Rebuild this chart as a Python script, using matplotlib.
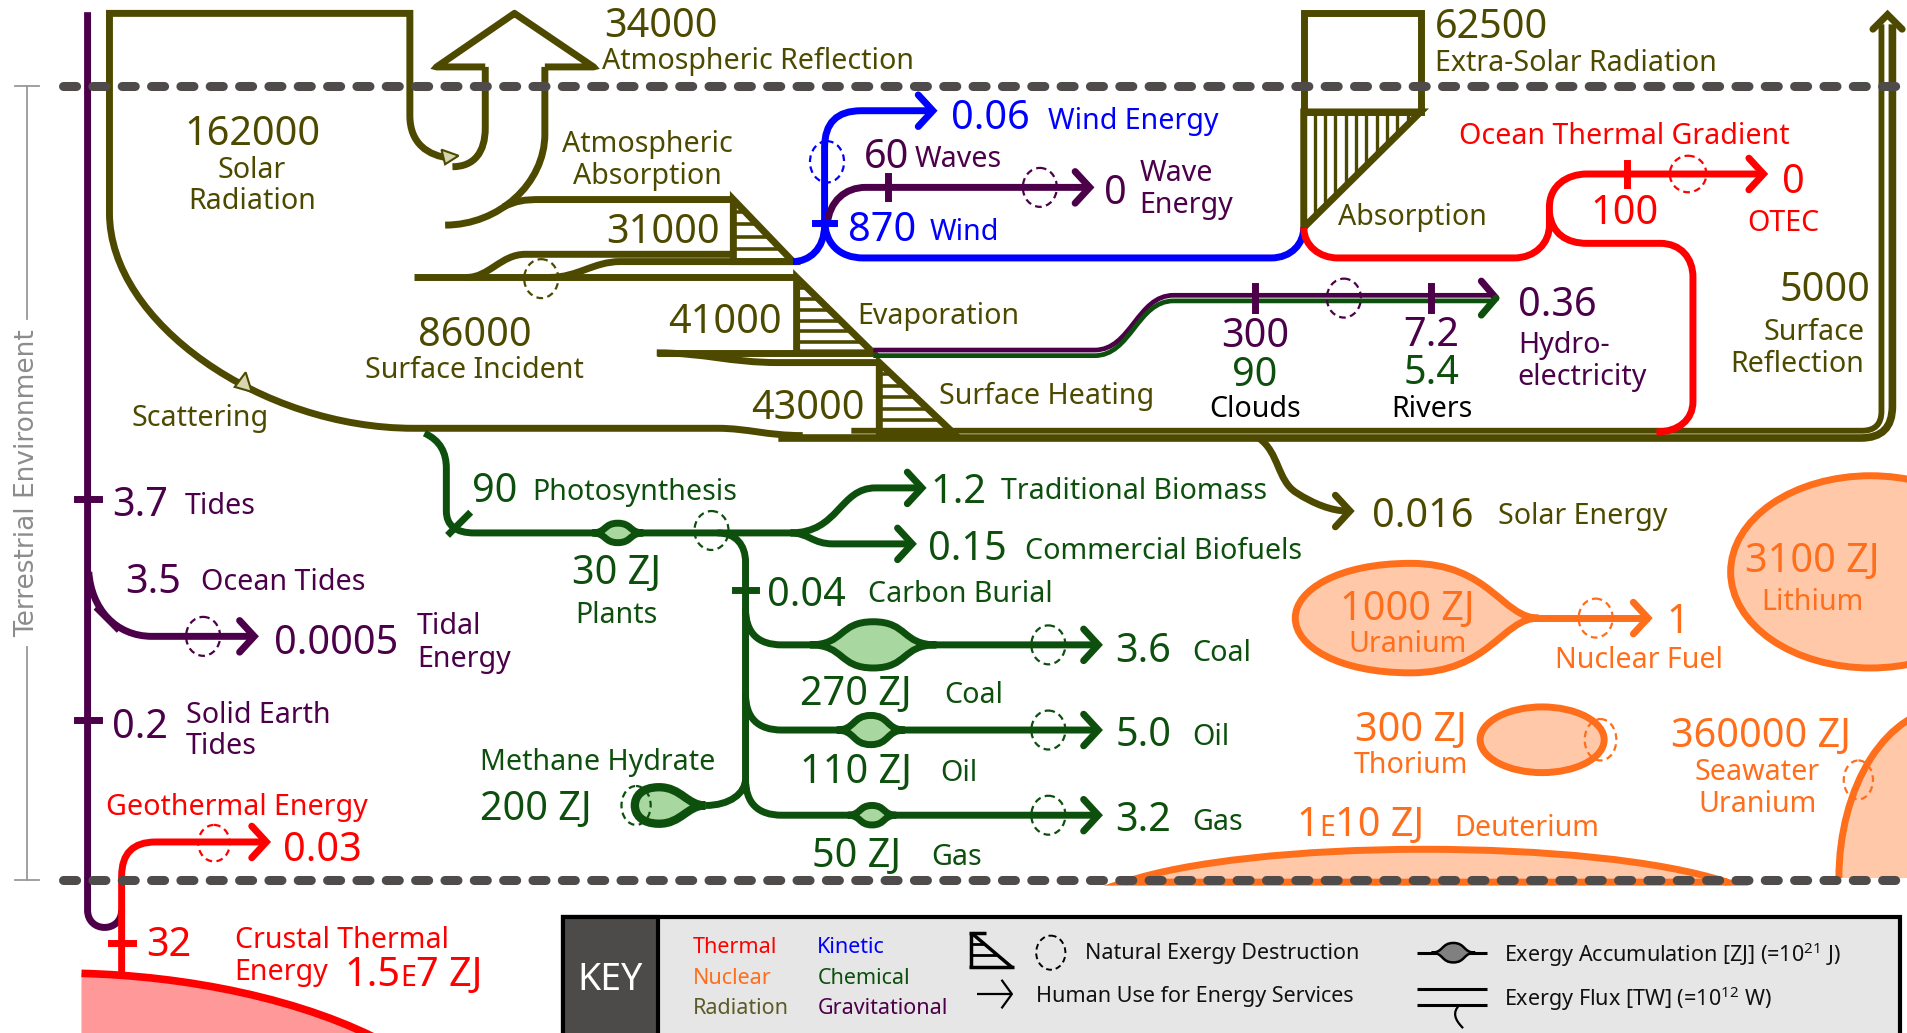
import numpy as np
import matplotlib
matplotlib.use("Agg")
import matplotlib.pyplot as plt
from matplotlib.path import Path
from matplotlib.patches import PathPatch, Ellipse, Rectangle, Polygon

plt.rcParams["font.family"] = ["Noto Sans", "DejaVu Sans"]
plt.rcParams["mathtext.default"] = "regular"

# colours of the exergy forms
OLIVE = "#4d4a00"
PURPLE = "#4b0049"
GREEN = "#0d4f0d"
LGREEN = "#a8d8a0"
BLUE = "#0000ff"
RED = "#ff0000"
ORANGE = "#ff6e1a"
PEACH = "#ffc8a8"
PINK = "#ff9999"
DASH = "#4f4b4b"

# ---- values shown on the chart (fluxes in TW, stocks in ZJ) ----
radiation_values = ["162000", "34000", "31000", "86000", "41000", "43000", "62500", "5000", "0.016"]
radiation_labels = ["Solar\nRadiation", "Atmospheric Reflection", "Atmospheric\nAbsorption",
                    "Surface Incident", "Evaporation", "Surface Heating",
                    "Extra-Solar Radiation", "Surface\nReflection", "Solar Energy"]
grav_values = ["3.7", "3.5", "0.0005", "0.2", "60", "0", "300", "7.2", "0.36"]
grav_labels = ["Tides", "Ocean Tides", "Tidal\nEnergy", "Solid Earth\nTides", "Waves",
               "Wave\nEnergy", "", "", "Hydro-\nelectricity"]
kinetic_values = ["870", "0.06"]
kinetic_labels = ["Wind", "Wind Energy"]
chem_flux = ["90", "1.2", "0.15", "0.04", "3.6", "5.0", "3.2", "90", "5.4"]
chem_flux_labels = ["Photosynthesis", "Traditional Biomass", "Commercial Biofuels",
                    "Carbon Burial", "Coal", "Oil", "Gas", "", ""]
chem_stock = ["30 ZJ", "270 ZJ", "110 ZJ", "50 ZJ", "200 ZJ"]
chem_stock_labels = ["Plants", "Coal", "Oil", "Gas", "Methane Hydrate"]
water_cycle = ["Clouds", "Rivers"]
thermal_values = ["100", "0", "0.03", "32", "1.5E7 ZJ"]
thermal_labels = ["Ocean Thermal Gradient", "OTEC", "Geothermal Energy", "", "Crustal Thermal\nEnergy"]
nuclear_stock = ["1000 ZJ", "3100 ZJ", "300 ZJ", "360000 ZJ", "1E10 ZJ"]
nuclear_labels = ["Uranium", "Lithium", "Thorium", "Seawater\nUranium", "Deuterium"]
nuclear_flux = ["1"]
nuclear_flux_labels = ["Nuclear Fuel"]
key_forms = ["Thermal", "Nuclear", "Radiation", "Kinetic", "Chemical", "Gravitational"]
key_form_colors = [RED, ORANGE, "#5c5a28", BLUE, GREEN, PURPLE]
key_symbols = ["Natural Exergy Destruction", "Human Use for Energy Services",
               "Exergy Accumulation [ZJ] (=10$^{21}$ J)", "Exergy Flux [TW] (=10$^{12}$ W)"]

NUM, LAB, KEYF = 28.5, 20.6, 15.5
LW = 5.0

W, H = 1568, 849
fig = plt.figure(figsize=(19.07, 10.33), dpi=100)
ax = fig.add_axes([0, 0, 1, 1])
ax.set_xlim(0, W)
ax.set_ylim(H, 0)
ax.axis("off")


def pth(*cmds):
    verts, codes = [], []
    for c in cmds:
        if c[0] == "M":
            verts.append(c[1:3]); codes.append(Path.MOVETO)
        elif c[0] == "L":
            verts.append(c[1:3]); codes.append(Path.LINETO)
        elif c[0] == "C":
            verts += [c[1:3], c[3:5], c[5:7]]; codes += [Path.CURVE4] * 3
        elif c[0] == "Q":
            verts += [c[1:3], c[3:5]]; codes += [Path.CURVE3] * 2
        elif c[0] == "Z":
            verts.append((0, 0)); codes.append(Path.CLOSEPOLY)
    return Path(verts, codes)


def rline(pts, r):
    cmds = [("M", pts[0][0], pts[0][1])]
    for i in range(1, len(pts) - 1):
        p0, p1, p2 = (np.asarray(p, float) for p in pts[i - 1:i + 2])
        l1, l2 = np.linalg.norm(p1 - p0), np.linalg.norm(p2 - p1)
        rr = min(r, l1 / 2, l2 / 2)
        a = p1 - (p1 - p0) / l1 * rr
        b = p1 + (p2 - p1) / l2 * rr
        cmds += [("L", a[0], a[1]), ("Q", p1[0], p1[1], b[0], b[1])]
    cmds.append(("L", pts[-1][0], pts[-1][1]))
    return cmds


def stroke(cmds, color, lw=LW, z=3, join="round", cap="butt"):
    ax.add_patch(PathPatch(pth(*cmds), fill=False, ec=color, lw=lw,
                           joinstyle=join, capstyle=cap, zorder=z))


def chevron(x, y, color, lw=LW, d="r", s=12, z=4):
    if d == "r":
        xs, ys = [x - s, x, x - s], [y - s - 1, y, y + s + 1]
    else:
        xs, ys = [x - s, x, x + s], [y + s, y, y + s]
    ax.plot(xs, ys, color=color, lw=lw, solid_capstyle="round",
            solid_joinstyle="miter", zorder=z)


def dcircle(x, y, color, rx=14, ry=16, lw=1.6):
    ax.add_patch(Ellipse((x, y), 2 * rx, 2 * ry, fill=False, ec=color, lw=lw,
                         ls=(0, (3, 2)), zorder=6))


def tick(x, y, color, orient="v", L=9, lw=LW):
    if orient == "v":
        ax.plot([x, x], [y - L, y + L], color=color, lw=lw, zorder=4)
    else:
        ax.plot([x - L, x + L], [y, y], color=color, lw=lw, zorder=4)


def lens(cx, cy, hw, hh, face=LGREEN, edge=GREEN, lw=LW, z=5):
    p = pth(("M", cx - hw, cy),
            ("C", cx - hw * 0.45, cy, cx - hw * 0.55, cy - hh, cx, cy - hh),
            ("C", cx + hw * 0.55, cy - hh, cx + hw * 0.45, cy, cx + hw, cy),
            ("C", cx + hw * 0.45, cy, cx + hw * 0.55, cy + hh, cx, cy + hh),
            ("C", cx - hw * 0.55, cy + hh, cx - hw * 0.45, cy, cx - hw, cy), ("Z",))
    ax.add_patch(PathPatch(p, fc=face, ec=edge, lw=lw, zorder=z))


def hatched_tri(x0, y0, x1, y1, n, color=OLIVE):
    # right triangle: vertical edge at x0 from y0..y1, hypotenuse to (x1, y1)
    ax.add_patch(Polygon([(x0, y0), (x1, y1), (x0, y1)], closed=True, fill=False,
                         ec=color, lw=LW, joinstyle="miter", zorder=3))
    for k in range(1, n + 1):
        yk = y0 + (y1 - y0) * k / (n + 1)
        xk = x0 + (x1 - x0) * (yk - y0) / (y1 - y0)
        ax.plot([x0, xk], [yk, yk], color=color, lw=2.6, zorder=3)


def T(x, y, s, color, size, ha="left", **kw):
    ax.text(x, y, s, color=color, fontsize=size, ha=ha, va="center_baseline",
            zorder=8, **kw)


def block(x, y, s, color, size, dy=27, ha="left"):
    for i, line in enumerate(s.split("\n")):
        T(x, y + i * dy, line, color, size, ha=ha)


def etext(x, y, s, color, size):
    # number written with a small-capital E
    head, tail = s.split("E")
    r = fig.canvas.get_renderer()
    inv = ax.transData.inverted()
    for part, sz in ((head, size), ("E", size * 0.72), (tail, size)):
        t = ax.text(x, y, part, color=color, fontsize=sz, ha="left", va="baseline", zorder=8)
        bb = t.get_window_extent(r)
        x = inv.transform((bb.x1, bb.y0))[0]


# ---------------- boundaries ----------------
for yy in (71, 723):
    ax.plot([52, W + 10], [yy, yy], color=DASH, lw=6.5, dashes=(1.45, 1.8),
            dash_capstyle="round", zorder=7)
ax.plot([22, 22], [71, 262], color="#999999", lw=1.3)
ax.plot([22, 22], [532, 723], color="#999999", lw=1.3)
ax.plot([12, 32], [71, 71], color="#999999", lw=1.3)
ax.plot([12, 32], [723, 723], color="#999999", lw=1.3)
ax.text(22, 397, "Terrestrial Environment", rotation=90, color="#8c8c8c", fontsize=19,
        family="DejaVu Sans", ha="center", va="center")

# ---------------- radiation (olive) ----------------
stroke([("M", 370, 130), ("C", 352, 128, 337, 118, 337, 95), ("L", 337, 11), ("L", 90, 11),
        ("L", 90, 175), ("C", 90, 265, 215, 352, 340, 352), ("L", 590, 352),
        ("C", 615, 352, 630, 358, 660, 358)], OLIVE, join="miter")
stroke(rline([(640, 360), (1556, 360), (1556, 20)], 26), OLIVE, lw=5.5)
stroke(rline([(700, 354), (1547, 354), (1547, 20)], 16), OLIVE, lw=4.2)
chevron(1552, 12, OLIVE, d="u", s=12)
ax.add_patch(Polygon([(363, 123), (377, 128), (366, 135)], closed=True, fc="#d8d6b0",
                     ec=OLIVE, lw=1.5, zorder=4))
ax.add_patch(Polygon([(193, 318), (202, 306), (207, 322)], closed=True, fc="#d8d6b0",
                     ec=OLIVE, lw=1.5, zorder=4))
stroke([("M", 399, 55), ("L", 399, 105), ("C", 399, 125, 390, 137, 372, 137)], OLIVE)
stroke(rline([(399, 55), (359, 55), (423, 11), (488, 55), (448, 55)], 0.1), OLIVE, join="miter")
stroke([("M", 448, 55), ("L", 448, 110), ("C", 448, 151, 410, 185, 366, 185)], OLIVE)
stroke([("M", 414, 170), ("C", 425, 165, 430, 164, 445, 164), ("L", 603, 164)], OLIVE)
hatched_tri(603, 164, 652, 215, 4)
stroke([("M", 384, 228), ("C", 402, 228, 412, 209, 432, 209), ("L", 603, 209)], OLIVE)
stroke([("M", 452, 228), ("C", 475, 228, 488, 215, 510, 215), ("L", 652, 215)], OLIVE)
stroke([("M", 340, 228), ("L", 655, 228)], OLIVE)
dcircle(445, 229, OLIVE, rx=14, ry=16)
hatched_tri(655, 228, 718, 290, 6)
stroke([("M", 540, 290), ("L", 718, 290)], OLIVE)
stroke([("M", 540, 290), ("C", 580, 290, 600, 298, 640, 298), ("L", 723, 298)], OLIVE)
hatched_tri(723, 298, 783, 355, 5)
# extra-solar box
ax.add_patch(Rectangle((1072, 11), 96, 81, fill=False, ec=OLIVE, lw=LW,
                       joinstyle="miter", zorder=3))
ax.add_patch(Polygon([(1072, 92), (1168, 92), (1072, 187)], closed=True, fill=False,
                     ec=OLIVE, lw=LW, joinstyle="miter", zorder=3))
for xk in np.arange(1081, 1166, 8.5):
    ax.plot([xk, xk], [92, 92 + (1168 - xk) / 96 * 95], color=OLIVE, lw=2.4, zorder=3)
# solar energy
stroke([("M", 1035, 360), ("C", 1052, 372, 1050, 395, 1066, 405),
        ("C", 1080, 414, 1095, 420, 1108, 420)], OLIVE)
chevron(1110, 420, OLIVE)

T(497, 18, radiation_values[1], OLIVE, NUM)
T(495, 48, radiation_labels[1], OLIVE, LAB)
T(208, 107, radiation_values[0], OLIVE, NUM, ha="center")
block(207, 137, radiation_labels[0], OLIVE, LAB, dy=26, ha="center")
block(532, 116, radiation_labels[2], OLIVE, LAB, dy=26, ha="center")
T(592, 187, radiation_values[2], OLIVE, NUM, ha="right")
T(390, 272, radiation_values[3], OLIVE, NUM, ha="center")
T(390, 302, radiation_labels[3], OLIVE, LAB, ha="center")
T(643, 261, radiation_values[4], OLIVE, NUM, ha="right")
T(705, 257, radiation_labels[4], OLIVE, LAB)
T(711, 332, radiation_values[5], OLIVE, NUM, ha="right")
T(772, 323, radiation_labels[5], OLIVE, LAB)
T(108, 341, "Scattering", OLIVE, LAB)
T(1180, 19, radiation_values[6], OLIVE, NUM)
T(1180, 49, radiation_labels[6], OLIVE, LAB)
T(1100, 176, "Absorption", OLIVE, LAB)
T(1538, 235, radiation_values[7], OLIVE, NUM, ha="right")
block(1533, 270, radiation_labels[7], OLIVE, LAB, ha="right")
T(1128, 421, radiation_values[8], OLIVE, NUM)
T(1232, 422, radiation_labels[8], OLIVE, LAB)

# ---------------- kinetic (blue) and waves ----------------
stroke([("M", 652, 215), ("C", 665, 215, 678, 205, 678, 185)] + rline([(678, 185), (678, 91), (767, 91)], 30)[1:],
       BLUE)
chevron(767, 91, BLUE)
stroke([("M", 678, 180), ("C", 678, 200, 690, 212, 710, 212), ("L", 1045, 212),
        ("C", 1062, 212, 1072, 200, 1072, 187)], BLUE)
tick(678, 183, BLUE, orient="h", L=8)
dcircle(680, 133, BLUE, rx=14, ry=17)
stroke([("M", 680, 185), ("C", 682, 165, 695, 154, 712, 154), ("L", 896, 154)], PURPLE)
chevron(896, 154, PURPLE)
tick(730, 154, PURPLE)
dcircle(855, 154, PURPLE)
T(782, 94, kinetic_values[1], BLUE, NUM)
T(862, 97, kinetic_labels[1], BLUE, LAB)
T(697, 186, kinetic_values[0], BLUE, NUM)
T(764, 188, kinetic_labels[0], BLUE, LAB)
T(710, 126, grav_values[4], PURPLE, NUM)
T(752, 128, grav_labels[4], PURPLE, LAB)
T(908, 155, grav_values[5], PURPLE, NUM)
block(937, 140, grav_labels[5], PURPLE, LAB, dy=26)

# ---------------- ocean thermal (red) ----------------
stroke([("M", 1072, 187), ("C", 1072, 202, 1085, 212, 1100, 212), ("L", 1245, 212),
        ("C", 1262, 212, 1274, 200, 1274, 185), ("L", 1274, 170),
        ("C", 1274, 153, 1288, 143, 1305, 143), ("L", 1450, 143)], RED)
chevron(1450, 143, RED)
tick(1338, 143, RED)
dcircle(1388, 143, RED, rx=15, ry=15)
stroke([("M", 1274, 175), ("C", 1276, 192, 1288, 200, 1305, 200), ("L", 1365, 200),
        ("C", 1382, 200, 1392, 212, 1392, 228), ("L", 1392, 330),
        ("C", 1392, 345, 1380, 355, 1362, 355)], RED)
T(1200, 109, thermal_labels[0], RED, LAB)
T(1336, 172, thermal_values[0], RED, NUM, ha="center")
T(1465, 146, thermal_values[1], RED, NUM)
T(1437, 181, thermal_labels[1], RED, LAB)

# ---------------- evaporation / hydro ----------------
for off, col in ((-2.3, PURPLE), (2.3, GREEN)):
    stroke([("M", 718, 290 + off), ("L", 900, 290 + off),
            ("C", 930, 290 + off, 935, 245 + off, 965, 245 + off), ("L", 1228, 245 + off)],
           col, lw=3.4)
ax.plot([1218, 1230], [231, 245], color=PURPLE, lw=LW, solid_capstyle="round", zorder=4)
ax.plot([1230, 1218], [245, 259], color=GREEN, lw=LW, solid_capstyle="round", zorder=4)
tick(1032, 245, PURPLE, L=10)
tick(1177, 245, PURPLE, L=10)
dcircle(1105, 245, PURPLE)
T(1032, 273, grav_values[6], PURPLE, NUM, ha="center")
T(1032, 305, chem_flux[7], GREEN, NUM, ha="center")
T(1032, 334, water_cycle[0], "black", LAB, ha="center")
T(1177, 272, grav_values[7], PURPLE, NUM, ha="center")
T(1177, 303, chem_flux[8], GREEN, NUM, ha="center")
T(1177, 334, water_cycle[1], "black", LAB, ha="center")
T(1248, 247, grav_values[8], PURPLE, NUM)
block(1248, 281, grav_labels[8], PURPLE, LAB, dy=26)

# ---------------- gravitational (tides) ----------------
stroke([("M", 72, 10), ("L", 72, 748), ("C", 72, 767, 100, 767, 100, 748)], PURPLE)
tick(72, 410, PURPLE, orient="h")
tick(72, 592, PURPLE, orient="h")
stroke([("M", 73, 470), ("C", 75, 500, 95, 523, 125, 523), ("L", 207, 523)], PURPLE)
chevron(209, 523, PURPLE)
ax.plot([81, 96], [501, 516], color=PURPLE, lw=LW, zorder=4)
dcircle(167, 523, PURPLE)
T(92, 412, grav_values[0], PURPLE, NUM)
T(152, 413, grav_labels[0], PURPLE, LAB)
T(103, 475, grav_values[1], PURPLE, NUM)
T(165, 476, grav_labels[1], PURPLE, LAB)
T(225, 525, grav_values[2], PURPLE, NUM)
block(343, 512, grav_labels[2], PURPLE, LAB)
T(92, 594, grav_values[3], PURPLE, NUM)
block(153, 585, grav_labels[3], PURPLE, LAB, dy=26)

# ---------------- geothermal (red) ----------------
ax.add_patch(PathPatch(pth(("M", 67, 860), ("L", 67, 800),
                           ("C", 150, 802, 250, 820, 322, 860), ("Z",)),
                       fc=PINK, ec="none", zorder=2))
stroke([("M", 67, 800), ("C", 150, 802, 250, 820, 322, 860)], RED, lw=5.5)
stroke(rline([(100, 802), (100, 692), (217, 692)], 28), RED)
chevron(219, 692, RED)
tick(100, 775, RED, orient="h")
dcircle(176, 693, RED, rx=13, ry=15)
T(87, 661, thermal_labels[2], RED, LAB)
T(233, 695, thermal_values[2], RED, NUM)
T(120, 773, thermal_values[3], RED, NUM)
block(193, 770, thermal_labels[4], RED, LAB, dy=26)
etext(283, 810, thermal_values[4], RED, NUM)

# ---------------- chemical (green) ----------------
stroke([("M", 349, 356), ("C", 362, 362, 367, 372, 367, 385), ("L", 367, 420),
        ("C", 367, 432, 375, 438, 390, 438), ("L", 655, 438)], GREEN)
ax.plot([370, 385], [438, 423], color=GREEN, lw=LW, zorder=4)
stroke([("M", 650, 438), ("C", 690, 438, 690, 401, 720, 401), ("L", 756, 401)], GREEN)
chevron(758, 401, GREEN)
stroke([("M", 650, 438), ("C", 665, 438, 668, 447, 685, 447), ("L", 748, 447)], GREEN)
chevron(750, 447, GREEN)
stroke([("M", 590, 438), ("C", 605, 438, 613, 448, 613, 462), ("L", 613, 640),
        ("C", 613, 652, 600, 662, 580, 662)], GREEN)
for yy in (530, 600, 670):
    stroke([("M", 613, yy - 30), ("C", 613, yy - 10, 623, yy, 643, yy), ("L", 901, yy)], GREEN)
    chevron(903, yy, GREEN)
    dcircle(862, yy, GREEN)
tick(613, 485, GREEN, orient="h")
lens(508, 438, 21, 8)
lens(718, 530, 52, 19)
lens(716, 600, 28, 12)
lens(717, 670, 20, 8)
ax.add_patch(PathPatch(pth(("M", 580, 662), ("C", 565, 662, 560, 647, 542, 647),
                           ("C", 527, 647, 522, 655, 522, 662),
                           ("C", 522, 669, 527, 677, 542, 677),
                           ("C", 560, 677, 565, 662, 580, 662), ("Z",)),
                       fc=LGREEN, ec=GREEN, lw=LW + 1, zorder=5))
dcircle(585, 436, GREEN)
dcircle(523, 662, GREEN, rx=12, ry=16)
T(388, 400, chem_flux[0], GREEN, NUM)
T(438, 402, chem_flux_labels[0], GREEN, LAB)
T(507, 468, chem_stock[0], GREEN, NUM, ha="center")
T(507, 503, chem_stock_labels[0], GREEN, LAB, ha="center")
T(765, 401, chem_flux[1], GREEN, NUM)
T(823, 401, chem_flux_labels[1], GREEN, LAB)
T(763, 448, chem_flux[2], GREEN, NUM)
T(843, 450, chem_flux_labels[2], GREEN, LAB)
T(631, 486, chem_flux[3], GREEN, NUM)
T(714, 486, chem_flux_labels[3], GREEN, LAB)
for i, yy in enumerate((532, 601, 671)):
    T(917, yy, chem_flux[4 + i], GREEN, NUM)
    T(980, yy + 2, chem_flux_labels[4 + i], GREEN, LAB)
for i, (xx, yy, xl) in enumerate(((658, 567, 776), (658, 631, 773), (668, 700, 766))):
    T(xx, yy, chem_stock[1 + i], GREEN, NUM)
    T(xl, yy + 2, chem_stock_labels[1 + i], GREEN, LAB)
T(395, 624, chem_stock_labels[4], GREEN, LAB)
T(395, 662, chem_stock[4], GREEN, NUM)

# ---------------- nuclear (orange) ----------------
ax.add_patch(PathPatch(pth(("M", 1265, 508), ("C", 1235, 508, 1225, 463, 1160, 463),
                           ("C", 1100, 463, 1065, 485, 1065, 508),
                           ("C", 1065, 531, 1100, 553, 1160, 553),
                           ("C", 1225, 553, 1235, 508, 1265, 508), ("Z",)),
                       fc=PEACH, ec=ORANGE, lw=LW, zorder=3))
ax.plot([1262, 1353], [508, 508], color=ORANGE, lw=LW, zorder=3)
chevron(1355, 508, ORANGE)
dcircle(1312, 508, ORANGE)
ax.add_patch(Ellipse((1538, 470), 230, 158, fc=PEACH, ec=ORANGE, lw=LW, zorder=3))
ax.add_patch(Ellipse((1268, 608), 102, 54, fc=PEACH, ec=ORANGE, lw=LW, zorder=3))
dcircle(1316, 608, ORANGE, rx=13, ry=17)
sea = Ellipse((1602, 722), 180, 280, fc=PEACH, ec=ORANGE, lw=LW, zorder=3)
ax.add_patch(sea)
sea.set_clip_path(Rectangle((0, 0), W, 722, transform=ax.transData))
dcircle(1528, 641, ORANGE, rx=12, ry=16)
ax.add_patch(PathPatch(pth(("M", 925, 725), ("C", 975, 708, 1070, 698, 1170, 698),
                           ("C", 1270, 698, 1365, 707, 1420, 725), ("Z",)),
                       fc=PEACH, ec=ORANGE, lw=LW, zorder=3))
T(1157, 497, nuclear_stock[0], ORANGE, NUM, ha="center")
T(1157, 527, nuclear_labels[0], ORANGE, LAB, ha="center")
T(1370, 508, nuclear_flux[0], ORANGE, NUM)
T(1348, 540, nuclear_flux_labels[0], ORANGE, LAB, ha="center")
T(1490, 458, nuclear_stock[1], ORANGE, NUM, ha="center")
T(1490, 492, nuclear_labels[1], ORANGE, LAB, ha="center")
T(1160, 597, nuclear_stock[2], ORANGE, NUM, ha="center")
T(1160, 626, nuclear_labels[2], ORANGE, LAB, ha="center")
T(1448, 602, nuclear_stock[3], ORANGE, NUM, ha="center")
block(1445, 632, nuclear_labels[3], ORANGE, LAB, dy=26, ha="center")
etext(1066, 687, nuclear_stock[4], ORANGE, NUM)
T(1196, 678, nuclear_labels[4], ORANGE, LAB)

# ---------------- key ----------------
ax.add_patch(Rectangle((463, 754), 1099, 100, fc="#e6e6e6", ec="black", lw=3, zorder=9))
ax.add_patch(Rectangle((463, 754), 78, 100, fc="#4d4a4a", ec="black", lw=3, zorder=9))
ax.text(502, 802, "KEY", color="white", fontsize=27, ha="center", va="center_baseline", zorder=10)
for i, (name, col) in enumerate(zip(key_forms, key_form_colors)):
    ax.text(570 + 102 * (i // 3), 777 + 25 * (i % 3), name, color=col, fontsize=KEYF,
            ha="left", va="center_baseline", zorder=10)
kw = dict(color="black", zorder=10, solid_capstyle="butt")
ax.plot([798, 798], [767, 795], lw=2.5, **kw)
ax.plot([797, 811], [767, 767], lw=2.5, **kw)
ax.plot([799, 832], [767, 795], lw=2.5, **kw)
ax.plot([797, 834], [795, 795], lw=2.5, **kw)
for yy in (776, 785):
    ax.plot([798, 799 + (yy - 767) * 33 / 28], [yy, yy], lw=2, **kw)
ax.add_patch(Ellipse((864, 783), 24, 28, fill=False, ec="black", lw=1.4,
                     ls=(0, (3, 2)), zorder=10))
ax.plot([803, 832], [817, 817], lw=1.6, **kw)
ax.plot([824, 832, 824], [806, 817, 828], color="black", lw=1.6, zorder=10)
ax.plot([1165, 1223], [783, 783], lw=2.2, **kw)
lens(1195, 783, 18, 8, face="#808080", edge="black", lw=1.8, z=10)
ax.plot([1165, 1223], [813, 813], lw=2.2, **kw)
ax.plot([1165, 1223], [826, 826], lw=2.2, **kw)
ax.add_patch(PathPatch(pth(("M", 1200, 826), ("C", 1194, 832, 1196, 838, 1203, 845)),
                       fill=False, ec="black", lw=1.6, zorder=10))
for i, (xx, yy) in enumerate(((892, 782), (852, 817), (1237, 782), (1237, 818))):
    ax.text(xx, yy, key_symbols[i], color="#111111", fontsize=KEYF, ha="left",
            va="center_baseline", zorder=10)

fig.savefig("out.png", dpi=100)
